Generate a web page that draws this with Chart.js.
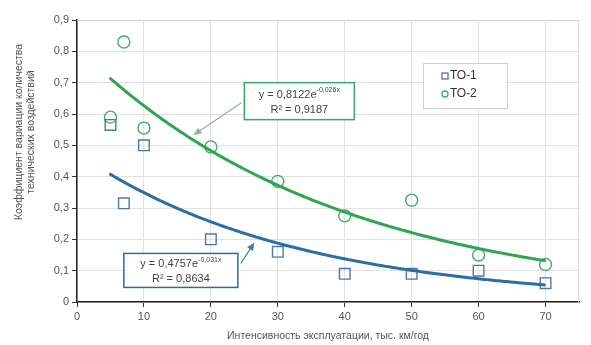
<html>
<head>
<meta charset="utf-8">
<script src="https://cdn.jsdelivr.net/npm/chart.js@4/dist/chart.umd.min.js"></script>
<style>
body { margin: 0; background: #fff; }
#wrap { width: 591px; height: 345px; }
</style>
</head>
<body>
<div id="wrap"><canvas id="chart"></canvas></div>

<script>
// data
var seriesNames = ['ТО-1', 'ТО-2'];
var intensity = [5, 7, 10, 20, 30, 40, 50, 60, 70];
var coefTO1 = [0.565, 0.315, 0.50, 0.20, 0.16, 0.09, 0.09, 0.10, 0.06];
var coefTO2 = [0.59, 0.83, 0.555, 0.495, 0.385, 0.275, 0.325, 0.15, 0.12];
// exponential trend lines y = a * e^(b*x), as printed on the chart
var trendA = [0.4757, 0.8122];
var trendB = [-0.031, -0.026];
var trendEqA = ['0,4757', '0,8122'];
var trendEqB = ['-0,031x', '-0,026x'];
var trendR2 = ['0,8634', '0,9187'];
var xTicks = [0, 10, 20, 30, 40, 50, 60, 70];
var yTicks = [0, 0.1, 0.2, 0.3, 0.4, 0.5, 0.6, 0.7, 0.8, 0.9];
var xTitle = 'Интенсивность эксплуатации, тыс. км/год';
var yTitle = ['Коэффициент вариации количества', 'технических воздействий'];

var blue = '#2b6ea6';
var green = '#2fa552';
var markBlue = '#4a78ad';
var markGreen = '#3fae6a';
var FONT = '"Liberation Sans", Arial, sans-serif';

Chart.defaults.font.family = FONT;
Chart.defaults.font.size = 10;
Chart.defaults.color = '#555';

function pts(ys) {
	return intensity.map(function(x, i) { return {x: x, y: ys[i]}; });
}

function arrow(ctx, x1, y1, x2, y2, color) {
	var ang = Math.atan2(y2 - y1, x2 - x1);
	ctx.save();
	ctx.strokeStyle = color;
	ctx.fillStyle = color;
	ctx.lineWidth = 1.2;
	ctx.beginPath();
	ctx.moveTo(x1, y1);
	ctx.lineTo(x2 - 6 * Math.cos(ang), y2 - 6 * Math.sin(ang));
	ctx.stroke();
	ctx.beginPath();
	ctx.moveTo(x2, y2);
	ctx.lineTo(x2 - 8 * Math.cos(ang) + 3.5 * Math.sin(ang), y2 - 8 * Math.sin(ang) - 3.5 * Math.cos(ang));
	ctx.lineTo(x2 - 8 * Math.cos(ang) - 3.5 * Math.sin(ang), y2 - 8 * Math.sin(ang) + 3.5 * Math.cos(ang));
	ctx.closePath();
	ctx.fill();
	ctx.restore();
}

function eqBox(ctx, left, top, w, h, color, i) {
	ctx.save();
	ctx.fillStyle = '#fff';
	ctx.fillRect(left, top, w, h);
	ctx.strokeStyle = color;
	ctx.lineWidth = 1.5;
	ctx.strokeRect(left, top, w, h);
	var cx = left + w / 2;
	ctx.fillStyle = '#444';
	ctx.textBaseline = 'middle';
	ctx.font = '11px ' + FONT;
	var base = 'y = ' + trendEqA[i] + 'e';
	var w1 = ctx.measureText(base).width;
	ctx.font = '7px ' + FONT;
	var w2 = ctx.measureText(trendEqB[i]).width;
	var sx = cx - (w1 + w2) / 2;
	ctx.textAlign = 'left';
	ctx.font = '11px ' + FONT;
	ctx.fillText(base, sx, top + h * 0.32);
	ctx.font = '7px ' + FONT;
	ctx.fillText(trendEqB[i], sx + w1, top + h * 0.32 - 4);
	ctx.font = '11px ' + FONT;
	ctx.textAlign = 'center';
	ctx.fillText('R² = ' + trendR2[i], cx, top + h * 0.74);
	ctx.restore();
}

var overlay = {
	id: 'overlay',
	beforeDatasetsDraw: function(chart) {
		var ctx = chart.ctx, a = chart.chartArea;
		ctx.save();
		ctx.strokeStyle = '#d6d6d6';
		ctx.lineWidth = 1;
		ctx.beginPath();
		ctx.moveTo(a.left, a.top + 0.5);
		ctx.lineTo(a.right - 0.5, a.top + 0.5);
		ctx.lineTo(a.right - 0.5, a.bottom);
		ctx.stroke();
		ctx.restore();
	},
	afterDatasetsDraw: function(chart) {
		var ctx = chart.ctx, xs = chart.scales.x, ys = chart.scales.y;
		var colors = [blue, green];
		var xMin = Math.min.apply(null, intensity), xMax = Math.max.apply(null, intensity);
		// trend curves
		for (var s = 0; s < 2; s++) {
			ctx.save();
			ctx.strokeStyle = colors[s];
			ctx.lineWidth = 3;
			ctx.lineCap = 'round';
			ctx.beginPath();
			var p0 = xs.getPixelForValue(xMin), p1 = xs.getPixelForValue(xMax);
			for (var px = p0; px <= p1 + 0.01; px += 2) {
				var v = xs.getValueForPixel(px);
				var py = ys.getPixelForValue(trendA[s] * Math.exp(trendB[s] * v));
				if (px === p0) ctx.moveTo(px, py); else ctx.lineTo(px, py);
			}
			ctx.stroke();
			ctx.restore();
		}
		function curveY(s, x) { return ys.getPixelForValue(trendA[s] * Math.exp(trendB[s] * x)); }

		// TO-2 equation box and arrow
		var gL = xs.getPixelForValue(25), gT = ys.getPixelForValue(0.70);
		arrow(ctx, gL - 3, gT + 20, xs.getPixelForValue(17.4), curveY(1, 17.4) - 5, '#8fb39c');
		eqBox(ctx, gL, gT, 110, 37, '#3aa860', 1);

		// TO-1 equation box and arrow
		var bL = xs.getPixelForValue(7), bT = ys.getPixelForValue(0.155);
		arrow(ctx, bL + 117, bT + 10, xs.getPixelForValue(26.5), curveY(0, 26.5) + 6, '#3a7fb0');
		eqBox(ctx, bL, bT, 114, 34, '#2a6e9e', 0);

		// legend box
		var lx = 423, ly = 63;
		ctx.save();
		ctx.strokeStyle = '#d0d0d0';
		ctx.lineWidth = 1;
		ctx.fillStyle = '#fff';
		ctx.fillRect(lx, ly, 84, 45);
		ctx.strokeRect(lx + 0.5, ly + 0.5, 84, 45);
		ctx.font = '12px ' + FONT;
		ctx.textBaseline = 'middle';
		ctx.fillStyle = '#333';
		ctx.fillText(seriesNames[0], lx + 27, ly + 13);
		ctx.fillText(seriesNames[1], lx + 27, ly + 31);
		ctx.lineWidth = 1.3;
		ctx.strokeStyle = markBlue;
		ctx.strokeRect(lx + 19, ly + 10, 6, 6);
		ctx.strokeStyle = markGreen;
		ctx.beginPath();
		ctx.arc(lx + 22, ly + 31, 3, 0, Math.PI * 2);
		ctx.stroke();
		ctx.restore();

		// y title
		ctx.save();
		ctx.translate(25, 132);
		ctx.rotate(-Math.PI / 2);
		ctx.font = '10.5px ' + FONT;
		ctx.fillStyle = '#555';
		ctx.textAlign = 'center';
		ctx.textBaseline = 'middle';
		ctx.fillText(yTitle[0], 0, -6);
		ctx.fillText(yTitle[1], 0, 6);
		ctx.restore();
	}
};

new Chart(document.getElementById('chart'), {
	type: 'scatter',
	data: {
		datasets: [
			{
				label: seriesNames[0],
				data: pts(coefTO1),
				pointStyle: 'rect',
				pointRadius: 7.5,
				pointBorderWidth: 1.4,
				borderColor: markBlue,
				backgroundColor: 'rgba(0,0,0,0)'
			},
			{
				label: seriesNames[1],
				data: pts(coefTO2),
				pointStyle: 'circle',
				pointRadius: 6,
				pointBorderWidth: 1.4,
				borderColor: markGreen,
				backgroundColor: 'rgba(0,0,0,0)'
			}
		]
	},
	options: {
		responsive: true,
		maintainAspectRatio: false,
		animation: false,
		events: [],
		layout: { padding: { top: 20, right: 12, left: 0, bottom: 0 } },
		plugins: {
			legend: { display: false },
			tooltip: { enabled: false }
		},
		scales: {
			x: {
				type: 'linear',
				min: 0,
				max: 75,
				afterBuildTicks: function(s) { s.ticks = xTicks.map(function(v) { return {value: v}; }); },
				afterFit: function(s) { s.height = 43; },
				ticks: { autoSkip: false, maxRotation: 0, padding: 3, color: '#555', font: { size: 11 } },
				grid: { color: '#e2e2e2', tickColor: '#333', tickLength: 5 },
				border: { color: '#222', width: 1.5 },
				title: { display: true, text: xTitle, color: '#555', font: { size: 10.5 }, padding: { top: 2, bottom: 3 } }
			},
			y: {
				min: 0,
				max: 0.9,
				afterBuildTicks: function(s) { s.ticks = yTicks.map(function(v) { return {value: v}; }); },
				afterFit: function(s) { s.width = 77; },
				ticks: {
					autoSkip: false,
					padding: 3,
					color: '#555',
					font: { size: 11 },
					callback: function(v) { return v === 0 ? '0' : v.toFixed(1).replace('.', ','); }
				},
				grid: { color: '#e2e2e2', tickColor: '#333', tickLength: 5 },
				border: { color: '#222', width: 1.5 }
			}
		}
	},
	plugins: [overlay]
});
</script>
</body>
</html>
